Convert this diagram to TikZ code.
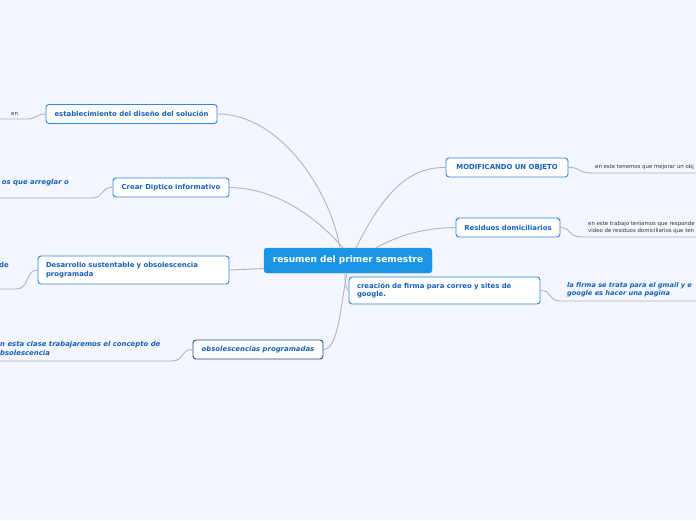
\documentclass[tikz,border=0pt]{standalone}
\usepackage{fontspec}
\setmainfont{DejaVu Sans}
\usepackage{xcolor}
\definecolor{mapbg}{RGB}{243,246,253}
\definecolor{mapblue}{RGB}{27,150,230}
\definecolor{mapedge}{RGB}{46,134,222}
\definecolor{maptext}{RGB}{21,96,189}
\definecolor{mapdark}{RGB}{30,74,140}
\definecolor{mapline}{RGB}{178,180,190}

\begin{document}
\begin{tikzpicture}[x=1pt,y=-1pt,
    rootbox/.style={fill=mapblue, draw=mapblue, rounded corners=3pt, text=white, font=\fontsize{9}{11}\selectfont\bfseries, minimum width=168pt, minimum height=25pt, inner sep=0pt},
    topic/.style={fill=white, draw=mapedge, line width=0.9pt, rounded corners=3pt, text=maptext, font=\fontsize{6.9}{8.6}\selectfont\bfseries, minimum height=19pt, inner sep=0pt},
    note/.style={text=black!80, font=\fontsize{5.4}{7}\selectfont, inner sep=0pt, align=left},
    bluenote/.style={text=maptext, font=\fontsize{6.9}{8.6}\selectfont\bfseries\itshape, inner sep=0pt, align=left},
    link/.style={draw=mapline, line width=0.9pt}]

    % Background
    \fill[mapbg] (0,0) rectangle (696,520);
    \clip (0,0) rectangle (696,520);

    % Root
    \node[rootbox] (root) at (348,260.5) {resumen del primer semestre};

    % Topics
    \node[topic, minimum width=171pt] (diseno) at (131.5,114) {establecimiento del diseño del solución};
    \node[topic, minimum width=116pt] (diptico) at (171,187.5) {Crear Diptico informativo};
    \node[topic, minimum width=191pt, minimum height=28pt, text width=175pt, align=left] (sustent) at (133.5,270) {Desarrollo sustentable y obsolescencia\\programada};
    \node[topic, draw=mapdark, minimum width=130pt, font=\fontsize{6.9}{8.6}\selectfont\bfseries\itshape] (obsol) at (258,349.5) {obsolescencias programadas};
    \node[topic, minimum width=122pt] (objeto) at (507,167.5) {MODIFICANDO UN OBJETO};
    \node[topic, minimum width=104pt] (residuos) at (508,227.5) {Residuos domiciliarios};
    \node[topic, minimum width=191pt, minimum height=27pt, text width=175pt, align=left] (firma) at (444.5,290.5) {creación de firma para correo y sites de\\google.};

    % Notes
    \node[note, anchor=west] (endiseno) at (11,114) {en};
    \node[bluenote, anchor=east] (ndiptico) at (69,183) {os que arreglar o};
    \node[bluenote, anchor=east, font=\fontsize{6.9}{8.6}\selectfont\bfseries] (nsustent) at (9,265) {de};
    \node[bluenote, anchor=north west] (nobsol) at (0,341) {n esta clase trabajaremos el concepto de\\bsolescencia};
    \node[note, anchor=west] (nobjeto) at (595,167) {en este tenemos que mejorar un obj};
    \node[note, anchor=north west] (nresiduos) at (588,220.5) {en este trabajo tenìamos que responde\\video de residuos domiciliarios que ten};
    \node[bluenote, anchor=north west, font=\fontsize{6.6}{8.6}\selectfont\bfseries\itshape] (nfirma) at (567,282) {la firma se trata para el gmail y e\\google es hacer una pagina};

    % Free ends
    \coordinate (e1) at (0,119);
    \coordinate (e2) at (0,198);
    \coordinate (e3) at (0,289);
    \coordinate (e4) at (0,361);
    \coordinate (e5) at (696,173);
    \coordinate (e6) at (696,237);
    \coordinate (e7) at (696,301);

    % Links from root
    \draw[link] ([xshift=-8pt]root.north) .. controls (330,190) and (280,114) .. (diseno.east);
    \draw[link] ([xshift=-5pt]root.north) .. controls (310,210) and (270,188) .. (diptico.east);
    \draw[link] ([yshift=-8pt]root.west) -- (sustent.east);
    \draw[link] ([xshift=-1pt]root.south) .. controls (340,310) and (338,349) .. (obsol.east);
    \draw[link] ([xshift=8pt]root.north) .. controls (385,190) and (410,167) .. (objeto.west);
    \draw[link] ([xshift=28pt]root.north) .. controls (405,232) and (430,228) .. (residuos.west);
    \draw[link] ([xshift=-3pt]root.south) .. controls (345,284) and (346,290) .. (firma.west);

    % Links to notes
    \draw[link] (diseno.west) .. controls (36,114) and (36,119) .. (28,119) -- (e1);
    \draw[link] (diptico.west) .. controls (100,187) and (104,198) .. (92,198) -- (e2);
    \draw[link] (sustent.west) .. controls (25,270) and (30,289) .. (16,289) -- (e3);
    \draw[link] (obsol.west) .. controls (180,349) and (185,361) .. (172,361) -- (e4);
    \draw[link] (objeto.east) .. controls (580,167) and (578,173) .. (592,173) -- (e5);
    \draw[link] (residuos.east) .. controls (572,228) and (568,237) .. (582,237) -- (e6);
    \draw[link] (firma.east) .. controls (552,290) and (548,301) .. (560,301) -- (e7);
\end{tikzpicture}
\end{document}
